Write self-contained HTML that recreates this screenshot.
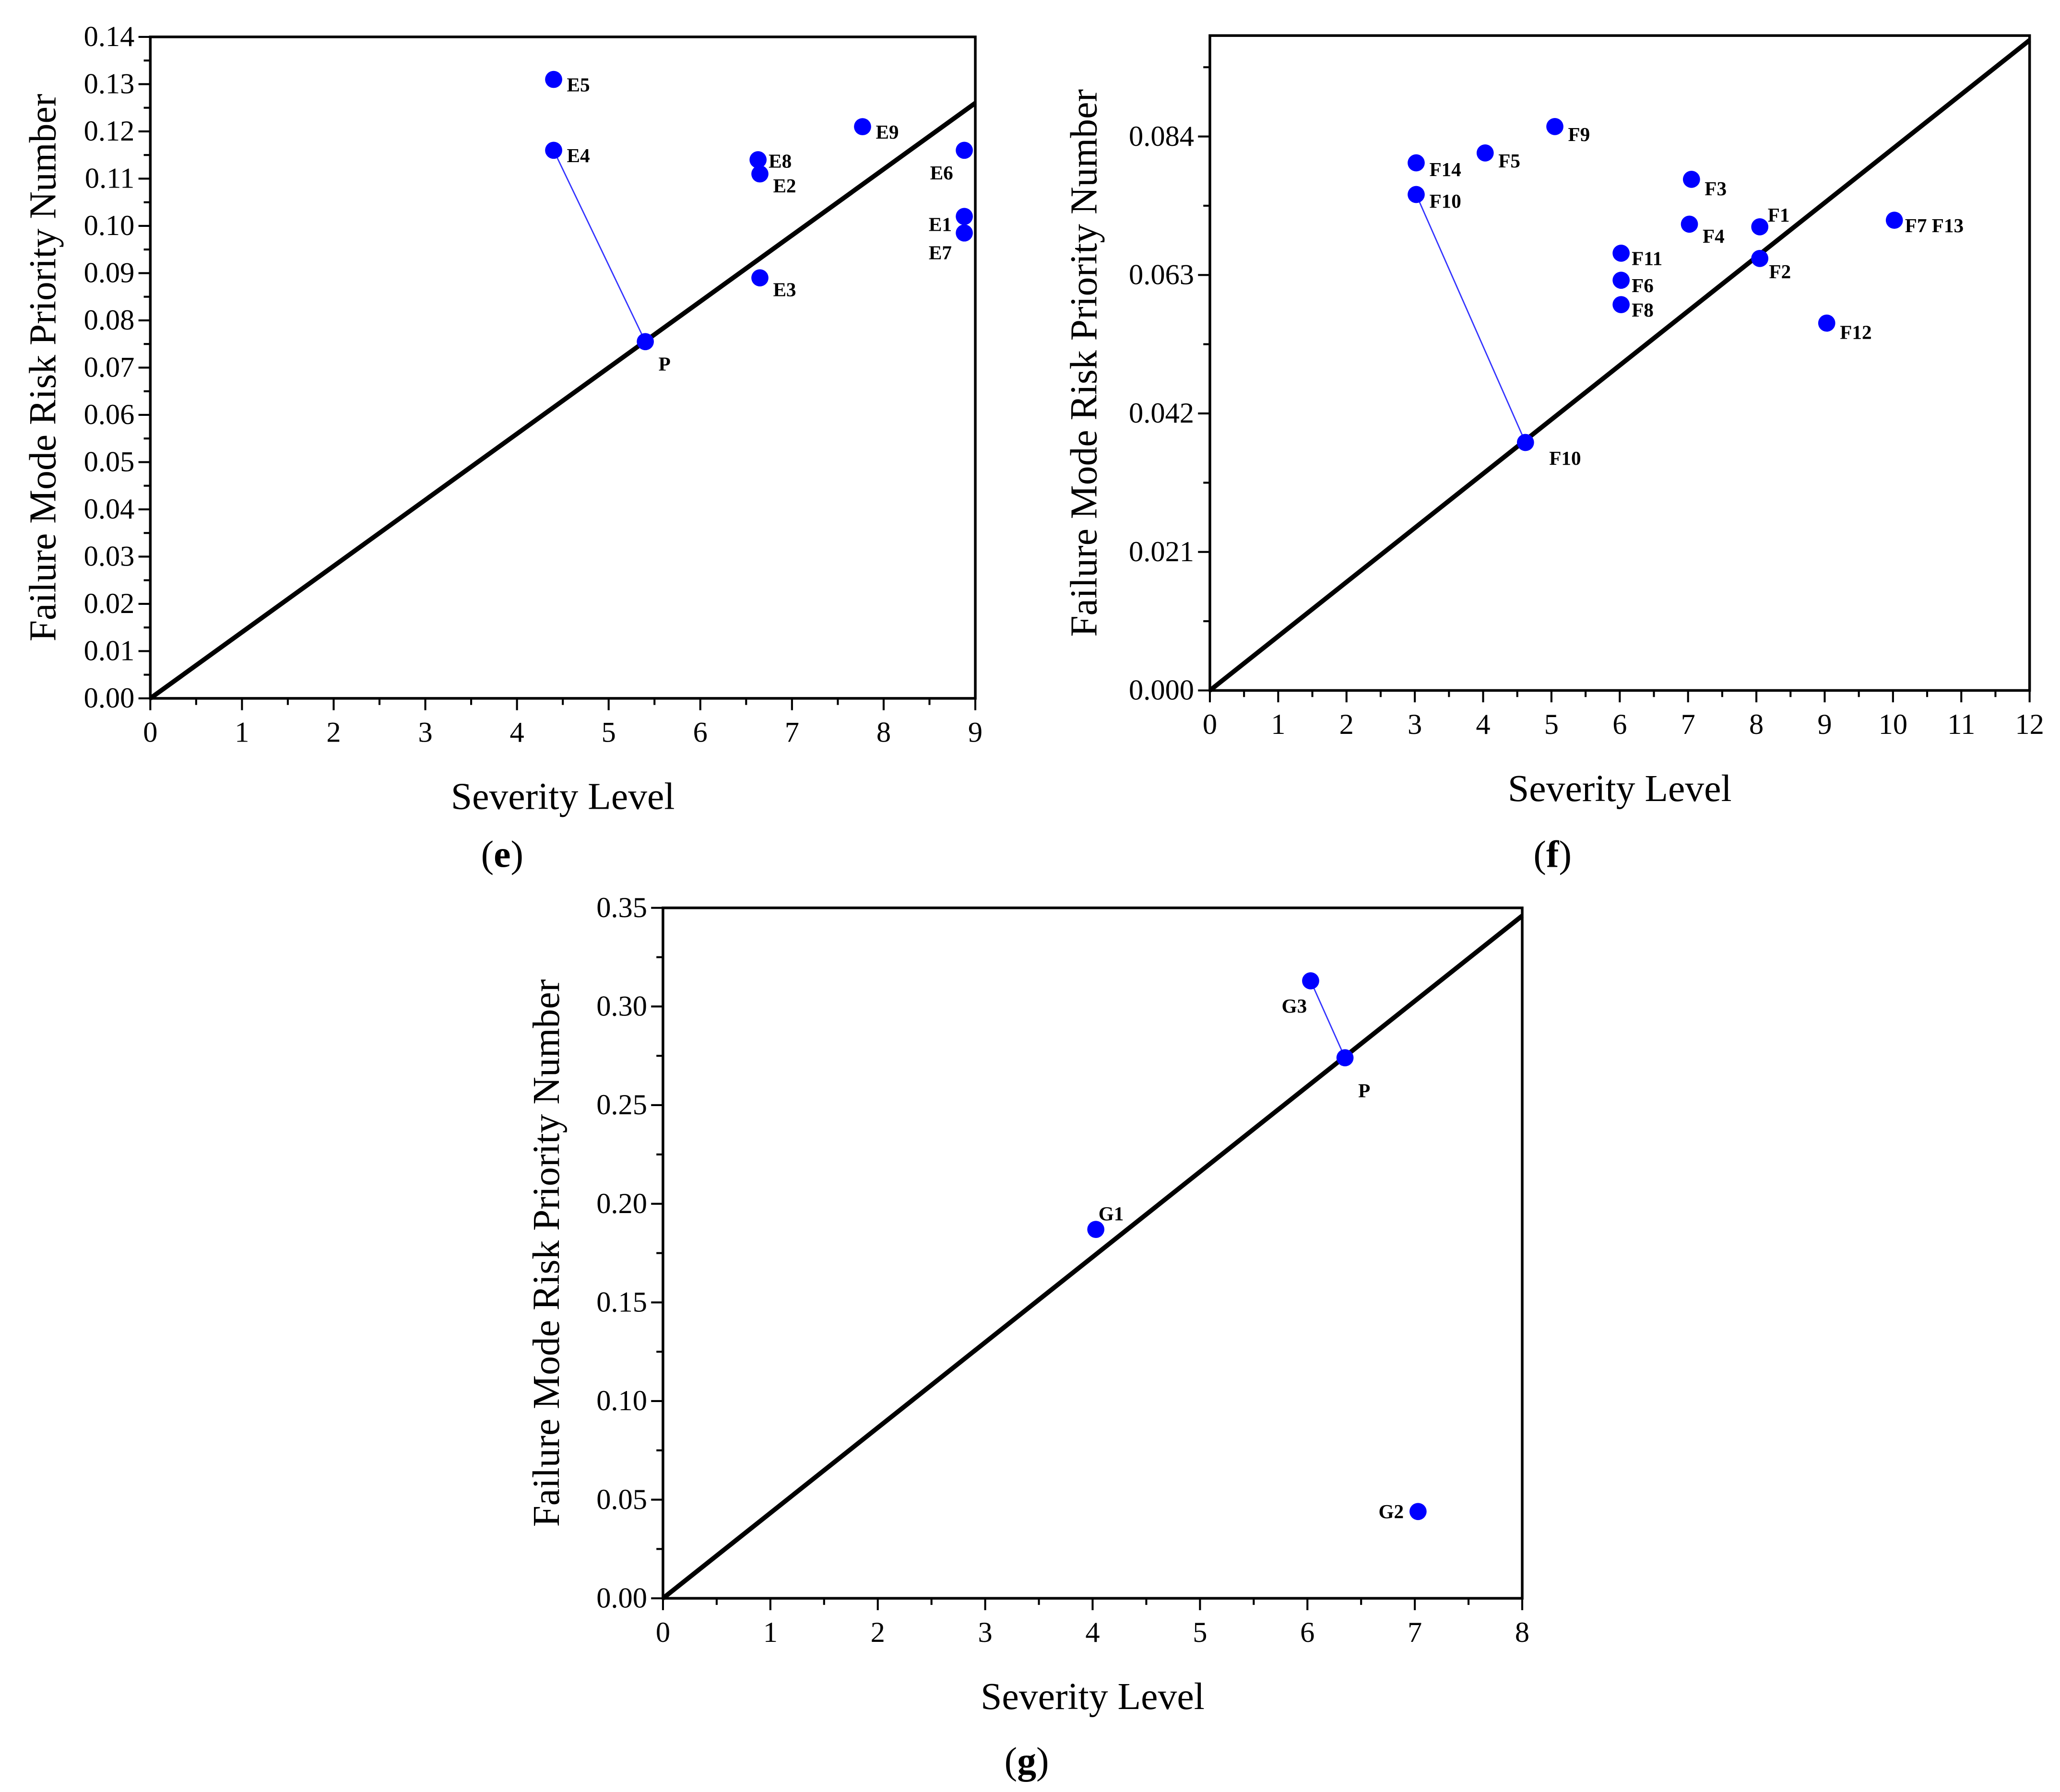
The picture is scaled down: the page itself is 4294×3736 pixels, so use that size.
<!DOCTYPE html>
<html><head><meta charset="utf-8">
<style>
html,body{margin:0;padding:0;background:#fff;}
svg{display:block;font-family:"Liberation Serif","Times New Roman",serif;}
</style></head>
<body>
<svg id="chart" width="4294" height="3736" viewBox="0 0 1563 1360" font-family="Liberation Serif, serif" xmlns="http://www.w3.org/2000/svg"></svg>
<script>
// Panel (e) data
const eNames = ["E5","E4","E8","E2","E9","E6","E1","E7","E3"];
const eX = [4.4,4.4,6.63,6.65,7.77,8.88,8.88,8.88,6.65];
const eY = [0.131,0.116,0.114,0.111,0.121,0.116,0.102,0.0985,0.089];
const eP = [5.4,0.0755];
const eLine = [9,0.126];
const eXTicks = [0,1,2,3,4,5,6,7,8,9];
const eYTicks = ["0.00","0.01","0.02","0.03","0.04","0.05","0.06","0.07","0.08","0.09","0.10","0.11","0.12","0.13","0.14"];
// Panel (f) data
const fNames = ["F9","F5","F14","F10","F3","F1","F4","F7 F13","F11","F2","F6","F8","F12"];
const fX = [5.05,4.03,3.02,3.02,7.05,8.05,7.02,10.02,6.02,8.05,6.02,6.02,9.03];
const fY = [0.0855,0.0815,0.080,0.0752,0.0775,0.0703,0.0707,0.0713,0.0663,0.0655,0.0622,0.0585,0.0557];
const fP = [4.62,0.0376];
const fLine = [12,0.0986];
const fXTicks = [0,1,2,3,4,5,6,7,8,9,10,11,12];
const fYTicks = ["0.000","0.021","0.042","0.063","0.084"];
// Panel (g) data
const gNames = ["G3","G1","G2"];
const gX = [6.03,4.03,7.03];
const gY = [0.313,0.187,0.044];
const gP = [6.35,0.274];
const gLine = [8,0.346];
const gXTicks = [0,1,2,3,4,5,6,7,8];
const gYTicks = ["0.00","0.05","0.10","0.15","0.20","0.25","0.30","0.35"];

const svg = document.getElementById('chart');
const NS = "http://www.w3.org/2000/svg";
const FF = '"Liberation Serif", serif';
function mk(tag, attrs, parent){
  const el = document.createElementNS(NS, tag);
  for (const k in attrs) el.setAttribute(k, attrs[k]);
  if (tag === 'text') el.style.fontFamily = FF;
  (parent||svg).appendChild(el);
  return el;
}

function panel(cfg){
  const g = mk('g', {});
  
  
  const L=cfg.L,R=cfg.R,T=cfg.T,B=cfg.B;
  const sx = v => L + v / cfg.xmax * (R - L);
  const sy = v => B - v / cfg.ymax * (B - T);
  const fr = mk('rect', {x:L,y:T,width:R-L,height:B-T,fill:'none',stroke:'#000','stroke-width':2}, g);
  
  
  cfg.xticks.forEach((t,i)=>{
    const x = sx(t);
    const tk = mk('line',{x1:x,x2:x,y1:B,y2:B+9,stroke:'#000','stroke-width':1.5},g);
    
    
    if (i < cfg.xticks.length-1){
      const xm = sx(t + (cfg.xticks[i+1]-t)/2);
      mk('line',{x1:xm,x2:xm,y1:B,y2:B+5,stroke:'#000','stroke-width':1.5},g);
    }
    const lb = mk('text',{x:x,y:B+33,'font-size':22,'text-anchor':'middle'},g);
    lb.textContent = t;
    
    
  });
  cfg.yticks.forEach((s,i)=>{
    const v = parseFloat(s);
    const y = sy(v);
    const tk = mk('line',{x1:L-9,x2:L,y1:y,y2:y,stroke:'#000','stroke-width':1.5},g);
    
    
    if (i < cfg.yticks.length-1){
      const ym = sy(v + (parseFloat(cfg.yticks[i+1])-v)/2);
      mk('line',{x1:L-5,x2:L,y1:ym,y2:ym,stroke:'#000','stroke-width':1.5},g);
    } else if (cfg.extraMinor){
      const step = parseFloat(cfg.yticks[1])-parseFloat(cfg.yticks[0]);
      const ym = sy(v + step/2);
      mk('line',{x1:L-5,x2:L,y1:ym,y2:ym,stroke:'#000','stroke-width':1.5},g);
    }
    const lb = mk('text',{x:L-12,y:y+7,'font-size':22,'text-anchor':'end'},g);
    lb.textContent = s;
    
    
  });
  const dl = mk('line',{x1:sx(0),y1:sy(0),x2:sx(cfg.line[0]),y2:sy(cfg.line[1]),stroke:'#000','stroke-width':3.5},g);
  
  
  const ci = cfg.names.indexOf(cfg.connect);
  const cn = mk('line',{x1:sx(cfg.x[ci]),y1:sy(cfg.y[ci]),x2:sx(cfg.p[0]),y2:sy(cfg.p[1]),stroke:'#3333ff','stroke-width':1},g);
  
  
  cfg.names.forEach((n,i)=>{
    const c = mk('circle',{cx:sx(cfg.x[i]),cy:sy(cfg.y[i]),r:6.5,fill:'#0000ff'},g);
    
    
    const off = cfg.off[n] || [10,9];
    const t = mk('text',{x:sx(cfg.x[i])+off[0],y:sy(cfg.y[i])+off[1],'font-size':15,'font-weight':'bold','text-anchor':off[2]||'start'},g);
    t.textContent = n;
    
    
  });
  const pc = mk('circle',{cx:sx(cfg.p[0]),cy:sy(cfg.p[1]),r:6.5,fill:'#0000ff'},g);
  
  
  const pt = mk('text',{x:sx(cfg.p[0])+cfg.pOff[0],y:sy(cfg.p[1])+cfg.pOff[1],'font-size':15,'font-weight':'bold'},g);
  pt.textContent = cfg.pLabel;
  
  
  const xt = mk('text',{x:(L+R)/2,y:B+84,'font-size':29,'text-anchor':'middle'},g);
  xt.textContent = 'Severity Level';
  
  
  const yt = mk('text',{x:0,y:0,'font-size':29,'text-anchor':'middle',transform:`translate(${cfg.ytx},${(T+B)/2}) rotate(-90)`},g);
  yt.textContent = 'Failure Mode Risk Priority Number';
  
  
  const pl = mk('text',{x:cfg.cap[0],y:cfg.cap[1],'font-size':29,'text-anchor':'middle'},g);
  pl.innerHTML = '(<tspan font-weight="bold">' + cfg.id + '</tspan>)';
  
  
}

panel({id:'e',L:114,R:740,T:28,B:530,xmax:9,ymax:0.14,names:eNames,x:eX,y:eY,p:eP,line:eLine,
  xticks:eXTicks,yticks:eYTicks,connect:'E4',pLabel:'P',pOff:[10,22],ytx:42,cap:[381,658],
  off:{"E6":[-26,22],"E1":[-27,11],"E7":[-27,20],"E8":[8,6],"E2":[10,14],"E3":[10,14]}});
panel({id:'f',L:918,R:1540,T:27,B:524,xmax:12,ymax:0.0993,names:fNames,x:fX,y:fY,p:fP,line:fLine,
  xticks:fXTicks,yticks:fYTicks,connect:'F10',pLabel:'F10',pOff:[18,17],ytx:832,cap:[1178,658],extraMinor:true,
  off:{"F1":[6,-4],"F9":[10,11],"F5":[10,11],"F14":[10,10],"F10":[10,10],"F3":[10,12],"F4":[10,14],"F7 F13":[8,9],"F11":[8,9],"F2":[7,15],"F6":[8,9],"F8":[8,9],"F12":[10,12]}});
panel({id:'g',L:503,R:1155,T:689,B:1213,xmax:8,ymax:0.35,names:gNames,x:gX,y:gY,p:gP,line:gLine,
  xticks:gXTicks,yticks:gYTicks,connect:'G3',pLabel:'P',pOff:[10,30],ytx:424,cap:[779,1346],
  off:{"G3":[-22,24],"G1":[2,-7],"G2":[-30,5]}});
</script>
</body></html>
